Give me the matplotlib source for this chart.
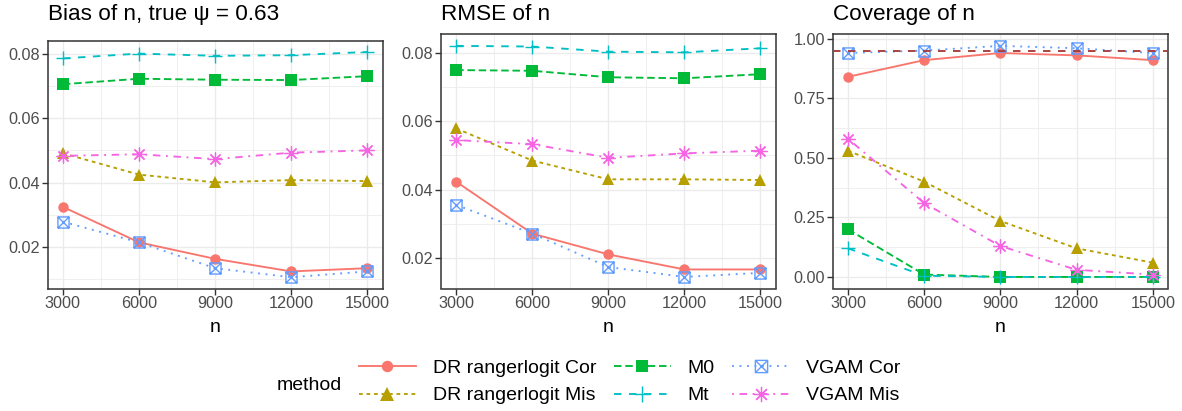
import matplotlib
matplotlib.use("Agg")
import matplotlib.pyplot as plt
from matplotlib.lines import Line2D
from matplotlib.path import Path
from matplotlib.ticker import MultipleLocator, AutoMinorLocator, FormatStrFormatter
from matplotlib.transforms import blended_transform_factory

plt.rcParams['font.family'] = ['Liberation Sans', 'DejaVu Sans']

# sample sizes on the x axis
n_vals = [3000, 6000, 9000, 12000, 15000]
methods = ["DR rangerlogit Cor", "DR rangerlogit Mis", "M0", "Mt", "VGAM Cor", "VGAM Mis"]

# bias of n
bias_dr_cor = [0.0325, 0.0215, 0.0164, 0.0125, 0.0135]
bias_dr_mis = [0.0491, 0.0425, 0.0401, 0.0408, 0.0405]
bias_m0 = [0.0705, 0.0722, 0.0719, 0.0718, 0.0730]
bias_mt = [0.0785, 0.0800, 0.0793, 0.0795, 0.0805]
bias_vgam_cor = [0.0279, 0.0215, 0.0135, 0.0107, 0.0125]
bias_vgam_mis = [0.0483, 0.0488, 0.0473, 0.0493, 0.0500]

# rmse of n
rmse_dr_cor = [0.0423, 0.0271, 0.0210, 0.0166, 0.0166]
rmse_dr_mis = [0.0579, 0.0485, 0.0430, 0.0430, 0.0428]
rmse_m0 = [0.0750, 0.0748, 0.0729, 0.0726, 0.0738]
rmse_mt = [0.0821, 0.0819, 0.0804, 0.0802, 0.0814]
rmse_vgam_cor = [0.0355, 0.0271, 0.0173, 0.0144, 0.0156]
rmse_vgam_mis = [0.0545, 0.0533, 0.0493, 0.0506, 0.0514]

# coverage of n
cov_dr_cor = [0.84, 0.91, 0.94, 0.93, 0.91]
cov_dr_mis = [0.53, 0.40, 0.235, 0.12, 0.06]
cov_m0 = [0.20, 0.01, 0.0, 0.0, 0.0]
cov_mt = [0.12, 0.005, 0.0, 0.0, 0.0]
cov_vgam_cor = [0.94, 0.95, 0.97, 0.96, 0.94]
cov_vgam_mis = [0.58, 0.31, 0.13, 0.03, 0.01]
nominal_cov = 0.95

# square with a cross inside (ggplot shape 7)
box_x = Path([(-1, -1), (1, -1), (1, 1), (-1, 1), (-1, -1), (-1, -1), (1, 1), (-1, 1), (1, -1)],
             [Path.MOVETO, Path.LINETO, Path.LINETO, Path.LINETO, Path.CLOSEPOLY,
              Path.MOVETO, Path.LINETO, Path.MOVETO, Path.LINETO])

styles = {
    "DR rangerlogit Cor": dict(color='#F8766D', ls='-', marker='o', ms=7.5, mfc='#F8766D', mew=0),
    "DR rangerlogit Mis": dict(color='#B79F00', ls=(0, (2, 2)), marker='^', ms=9, mfc='#B79F00', mew=0),
    "M0": dict(color='#00BA38', ls=(0, (4, 2)), marker='s', ms=8, mfc='#00BA38', mew=0),
    "Mt": dict(color='#00BFC4', ls=(0, (4, 4)), marker='+', ms=10, mew=1.0),
    "VGAM Cor": dict(color='#619CFF', ls=(0, (1, 3)), marker=box_x, ms=8, mfc='none', mew=1.0),
    "VGAM Mis": dict(color='#F564E3', ls=(0, (1, 3, 4, 3)), marker=(8, 2, 0), ms=10, mew=0.9),
}
LW = 1.35

W, H = 1182, 411
fig = plt.figure(figsize=(W / 100, H / 100), dpi=100)


def add_panel(left, right, top, bottom):
    return fig.add_axes([left / W, 1 - bottom / H, (right - left) / W, (bottom - top) / H])


def draw_panel(ax, title, series, step, hline=None):
    allv = [v for s in series for v in s]
    if hline is not None:
        allv.append(hline)
    lo, hi = min(allv), max(allv)
    pad = 0.05 * (hi - lo)
    for name, vals in zip(methods, series):
        st = styles[name]
        ax.plot(n_vals, vals, color=st['color'], ls=st['ls'], lw=LW, zorder=2)
    for name, vals in zip(methods, series):
        st = styles[name]
        ax.plot(n_vals, vals, ls='none', color=st['color'], marker=st['marker'], ms=st['ms'],
                mfc=st.get('mfc', st['color']), mec=st['color'], mew=st['mew'], zorder=3)
    if hline is not None:
        ax.axhline(hline, color='#A83C3C', ls=(0, (4, 4)), lw=LW, zorder=4)
    ax.set_xlim(n_vals[0] - 0.05 * (n_vals[-1] - n_vals[0]), n_vals[-1] + 0.05 * (n_vals[-1] - n_vals[0]))
    ax.set_ylim(lo - pad, hi + pad)
    ax.set_xticks(n_vals)
    ax.xaxis.set_minor_locator(AutoMinorLocator(2))
    ax.yaxis.set_major_locator(MultipleLocator(step))
    ax.yaxis.set_minor_locator(AutoMinorLocator(2))
    ax.yaxis.set_major_formatter(FormatStrFormatter('%.2f'))
    ax.grid(which='major', color='#EBEBEB', lw=1.0, zorder=0)
    ax.grid(which='minor', color='#EBEBEB', lw=0.55, zorder=0)
    ax.set_axisbelow(True)
    ax.tick_params(which='major', length=4, width=1.0, color='#333333', labelcolor='#4D4D4D',
                   labelsize=11.7, pad=1.4)
    ax.tick_params(which='minor', length=0)
    for sp in ax.spines.values():
        sp.set_color('#333333')
        sp.set_linewidth(1.1)
    tr = blended_transform_factory(ax.transAxes, fig.transFigure)
    ax.text(0, 1 - 20.3 / H, title, transform=tr, ha='left', va='baseline', fontsize=16.2)
    ax.text(0.5, 1 - 331.7 / H, 'n', transform=tr, ha='center', va='baseline', fontsize=14)


ax1 = add_panel(47.7, 382.5, 40.7, 288.5)
draw_panel(ax1, "Bias of n, true \u03c8 = 0.63",
           [bias_dr_cor, bias_dr_mis, bias_m0, bias_mt, bias_vgam_cor, bias_vgam_mis], 0.02)

ax2 = add_panel(441, 775.7, 34.3, 288.5)
draw_panel(ax2, "RMSE of n",
           [rmse_dr_cor, rmse_dr_mis, rmse_m0, rmse_mt, rmse_vgam_cor, rmse_vgam_mis], 0.02)

ax3 = add_panel(832.7, 1168, 34.3, 288.5)
draw_panel(ax3, "Coverage of n",
           [cov_dr_cor, cov_dr_mis, cov_m0, cov_mt, cov_vgam_cor, cov_vgam_mis], 0.25, hline=nominal_cov)

# legend at the bottom
handles = []
for name in methods:
    st = styles[name]
    handles.append(Line2D([], [], color=st['color'], ls=st['ls'], lw=LW, marker=st['marker'],
                          ms=st['ms'] * 1.1, mfc=st.get('mfc', st['color']), mec=st['color'], mew=st['mew']))
fig.legend(handles, methods, loc='center left', bbox_to_anchor=(359 / W, 1 - 382 / H),
           ncol=3, frameon=False, fontsize=14, handlelength=2.93, handletextpad=0.87,
           columnspacing=0.9, labelspacing=0.5, borderpad=0, borderaxespad=0, numpoints=1)
fig.text(277 / W, 1 - 389.5 / H, 'method', ha='left', va='baseline', fontsize=14)

fig.savefig('out.png', dpi=100)
